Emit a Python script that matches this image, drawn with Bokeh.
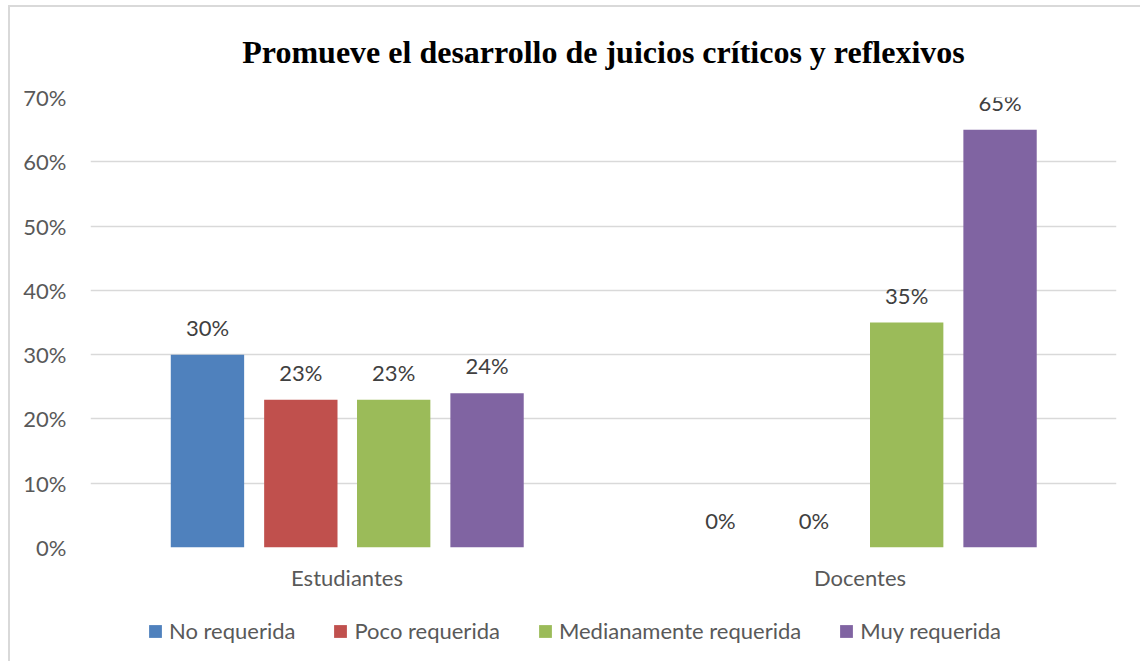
from bokeh.plotting import figure
from bokeh.layouts import column
from bokeh.models import (ColumnDataSource, FactorRange, Range1d, PrintfTickFormatter,
                          SingleIntervalTicker, Legend, Title)
from bokeh.transform import dodge
from bokeh.core.properties import value
from bokeh.embed import file_html
from bokeh.resources import INLINE

# ---- data ----
groups = ["Estudiantes", "Docentes"]
series_names = ["No requerida", "Poco requerida", "Medianamente requerida", "Muy requerida"]
no_requerida = [30, 0]
poco_requerida = [23, 0]
medianamente_requerida = [23, 35]
muy_requerida = [24, 65]
title_text = "Promueve el desarrollo de juicios críticos y reflexivos"

series_values = [no_requerida, poco_requerida, medianamente_requerida, muy_requerida]
colors = ["#4F81BD", "#C0504D", "#9BBB59", "#8064A2"]
offsets = [-0.272, -0.090, 0.091, 0.273]
bar_w = 0.143

FONT = "Lato"
TXT = "#595959"
FS = "22px"

p = figure(x_range=FactorRange(*groups), y_range=Range1d(0, 70),
           frame_width=1024, frame_height=448,
           output_backend="svg", toolbar_location=None,
           min_border_left=80, min_border_right=26, min_border_top=0, min_border_bottom=40)
p.styles = {"margin-left": "8px", "margin-top": "5px",
            "border-left": "2px solid #D9D9D9", "border-top": "2px solid #D9D9D9"}

t = Title(text=title_text, align="center", text_font="Liberation Serif",
          text_font_size="32px", text_font_style="bold", text_color="#000000",
          standoff=52, vertical_align="top")
p.add_layout(t, "above")

p.outline_line_color = None
p.xgrid.grid_line_color = None
p.ygrid.grid_line_color = "#D9D9D9"
p.ygrid.grid_line_width = 1.5

p.yaxis.ticker = SingleIntervalTicker(interval=10)
p.yaxis.formatter = PrintfTickFormatter(format="%d%%")
for ax in (p.xaxis, p.yaxis):
    ax.axis_line_color = None
    ax.major_tick_line_color = None
    ax.minor_tick_line_color = None
    ax.major_label_text_font = FONT
    ax.major_label_text_font_size = FS
    ax.major_label_text_color = TXT
p.yaxis.major_label_standoff = 18
p.xaxis.major_label_standoff = 10

for name, vals, col, off in zip(series_names, series_values, colors, offsets):
    src = ColumnDataSource(dict(g=groups, v=vals, lbl=[f"{v}%" for v in vals]))
    p.vbar(x=dodge("g", off, range=p.x_range), top="v", width=bar_w, source=src,
           fill_color=col, line_color=None)
    p.text(x=dodge("g", off, range=p.x_range), y="v", text="lbl", source=src,
           text_align="center", text_baseline="bottom", y_offset=-14,
           text_font=value(FONT), text_font_size=FS, text_color="#404040")

# legend strip below the chart (hidden proxy renderers carry the legend swatches)
leg = figure(width=1130, height=70, x_range=Range1d(0, 1), y_range=Range1d(0, 1),
             output_backend="svg", toolbar_location=None,
             x_axis_location=None, y_axis_location=None,
             min_border_left=0, min_border_right=0, min_border_top=0, min_border_bottom=0)
leg.styles = {"margin-left": "8px", "border-left": "2px solid #D9D9D9"}
leg.outline_line_color = None
leg.xgrid.grid_line_color = None
leg.ygrid.grid_line_color = None
items = []
for name, vals, col in zip(series_names, series_values, colors):
    lsrc = ColumnDataSource(dict(x=list(range(len(vals))), top=vals))
    r = leg.vbar(x="x", top="top", width=0.1, source=lsrc, fill_color=col,
                 line_color=None, visible=False)
    items.append((name, [r]))
legend = Legend(items=items, orientation="horizontal", location=(57, 17),
                label_text_font=FONT, label_text_font_size=FS, label_text_color=TXT,
                glyph_width=16, glyph_height=16, spacing=37, label_standoff=6,
                label_height=20, border_line_color=None, background_fill_alpha=0,
                inactive_fill_alpha=0, margin=0, padding=0)
leg.add_layout(legend, "center")

layout = column(p, leg, spacing=0)
open("out.html", "w").write(file_html(layout, INLINE))
